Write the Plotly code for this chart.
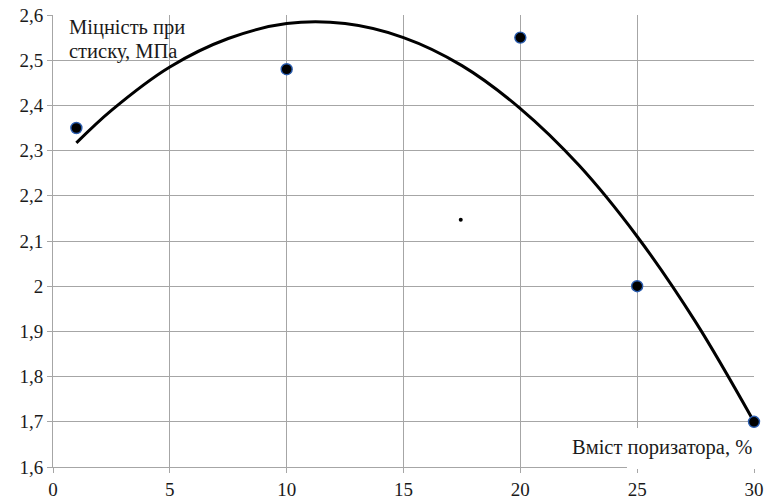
import plotly.graph_objects as go

# measured points
x_pts = [1, 10, 20, 25, 30]
y_pts = [2.35, 2.48, 2.55, 2.00, 1.70]

# trend curve
x_curve = [1, 2.5, 5, 7.5, 10, 12.5, 15, 17.5, 20, 22.5, 25, 27.5, 30]
y_curve = [2.317, 2.389, 2.485, 2.548, 2.581, 2.581, 2.550, 2.488, 2.393, 2.268, 2.110, 1.921, 1.700]

# stray dot
x_dot = [17.45]
y_dot = [2.147]

x_ticks = [0, 5, 10, 15, 20, 25, 30]
x_ticktext = ["0", "5", "10", "15", "20", "25", "30"]
y_ticks = [1.6, 1.7, 1.8, 1.9, 2.0, 2.1, 2.2, 2.3, 2.4, 2.5, 2.6]
y_ticktext = ["1,6", "1,7", "1,8", "1,9", "2", "2,1", "2,2", "2,3", "2,4", "2,5", "2,6"]

y_title_lines = ["Міцність при", "стиску, МПа"]
x_title = "Вміст поризатора, %"

font = "Liberation Serif"
grid = "#a6a6a6"
txt = "#1a1a1a"

fig = go.Figure()
fig.add_trace(go.Scatter(x=x_curve, y=y_curve, mode="lines", line=dict(color="black", width=3, shape="spline"),
                         hoverinfo="skip", cliponaxis=False))
fig.add_trace(go.Scatter(x=x_pts, y=y_pts, mode="markers", cliponaxis=False,
                         marker=dict(color="black", size=11, line=dict(color="#2a5db0", width=1.4))))
fig.add_trace(go.Scatter(x=x_dot, y=y_dot, mode="markers", marker=dict(color="black", size=4)))

fig.update_layout(
    width=768, height=500,
    margin=dict(l=53, r=14, t=15, b=33),
    paper_bgcolor="white", plot_bgcolor="white",
    showlegend=False,
    font=dict(family=font, size=19, color=txt),
    xaxis=dict(range=[0, 30], tickvals=x_ticks, ticktext=x_ticktext, showgrid=True, gridcolor=grid, gridwidth=1,
               showline=True, linecolor=grid, linewidth=1, ticks="outside", ticklen=5, tickcolor=grid,
               zeroline=False, automargin=False, tickfont=dict(family=font, size=19, color=txt)),
    yaxis=dict(range=[1.6, 2.6], tickvals=y_ticks, ticktext=y_ticktext, showgrid=True, gridcolor=grid, gridwidth=1,
               showline=True, linecolor=grid, linewidth=1, ticks="outside", ticklen=5, tickcolor=grid,
               zeroline=False, automargin=False, tickfont=dict(family=font, size=19, color=txt)),
    shapes=[
        # white box behind the y title (covers grid, stays under the curve)
        dict(type="rect", xref="paper", yref="paper", x0=0.0157, x1=0.218, y0=0.886, y1=1.02,
             fillcolor="white", line=dict(width=0), layer="between"),
        # white box behind the x title
        dict(type="rect", xref="paper", yref="paper", x0=0.8188, x1=1.03, y0=-0.0044, y1=0.0863,
             fillcolor="white", line=dict(width=0), layer="above"),
    ],
    annotations=[
        dict(text=y_title_lines[0], xref="paper", yref="paper", x=0.0214, y=0.9723, xanchor="left",
             yanchor="middle", showarrow=False, borderpad=0, font=dict(family=font, size=20.5, color=txt)),
        dict(text=y_title_lines[1], xref="paper", yref="paper", x=0.0214, y=0.9193, xanchor="left",
             yanchor="middle", showarrow=False, borderpad=0, font=dict(family=font, size=20.5, color=txt)),
        dict(text=x_title, xref="paper", yref="paper", x=0.9986, y=0.044, xanchor="right", yanchor="middle",
             showarrow=False, borderpad=0, font=dict(family=font, size=20.5, color=txt)),
    ],
)

fig.write_html("out.html")
